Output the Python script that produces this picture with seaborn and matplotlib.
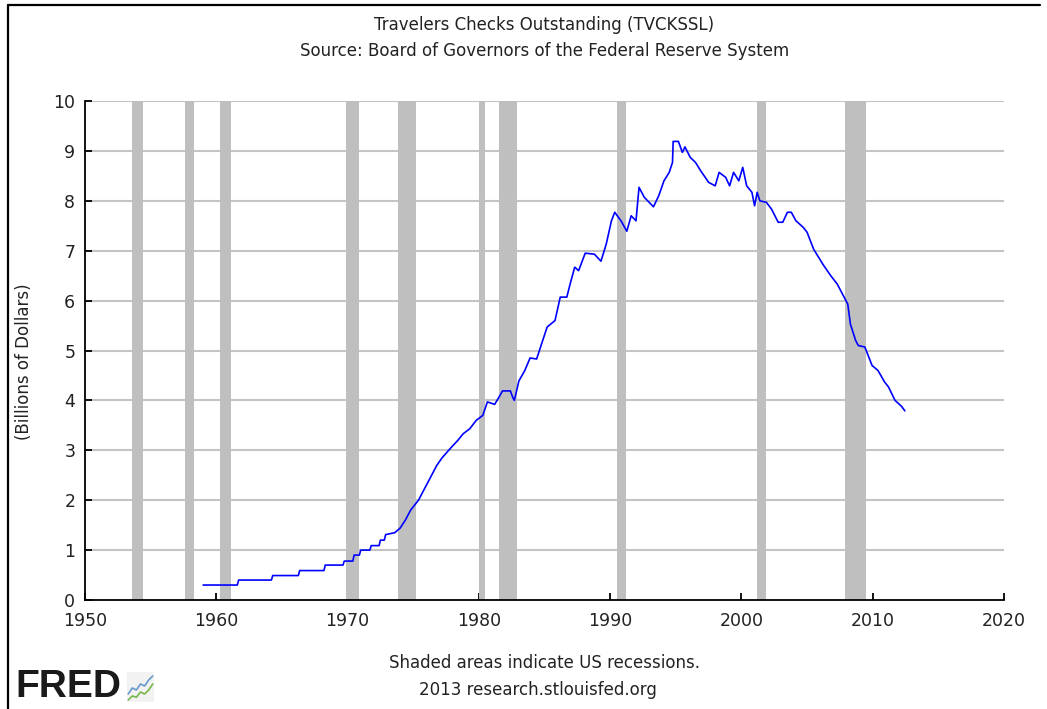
import matplotlib
matplotlib.use("Agg")
import matplotlib.pyplot as plt
from matplotlib.lines import Line2D
import seaborn as sns
import pandas as pd

# ---- data ----
years = [1959.0, 1961.6, 1961.7, 1964.2, 1964.3, 1966.25, 1966.35, 1968.2, 1968.3,
         1969.65, 1969.75, 1970.4, 1970.5, 1970.9, 1971.0, 1971.7, 1971.8, 1972.4,
         1972.5, 1972.8, 1972.9, 1973.6, 1974.0, 1974.4, 1974.8, 1975.4, 1976.0,
         1976.4, 1976.8, 1977.2, 1977.8, 1978.4, 1978.8, 1979.3, 1979.8, 1980.3,
         1980.65, 1981.2, 1981.5, 1981.8, 1982.4, 1982.6, 1982.7, 1983.05, 1983.5,
         1983.9, 1984.4, 1984.7, 1985.2, 1985.8, 1986.2, 1986.7, 1986.95, 1987.3,
         1987.6, 1988.1, 1988.8, 1989.3, 1989.7, 1990.1, 1990.35, 1990.85, 1991.27,
         1991.6, 1991.97, 1992.2, 1992.6, 1993.3, 1993.7, 1994.1, 1994.5, 1994.75,
         1994.8, 1995.2, 1995.5, 1995.7, 1996.1, 1996.5, 1996.9, 1997.5, 1998.0,
         1998.3, 1998.8, 1999.1, 1999.4, 1999.8, 2000.1, 2000.4, 2000.8, 2001.0,
         2001.2, 2001.4, 2001.9, 2002.3, 2002.8, 2003.15, 2003.5, 2003.8, 2004.15,
         2004.7, 2005.0, 2005.5, 2006.2, 2006.8, 2007.3, 2007.7, 2008.1, 2008.3,
         2008.7, 2008.9, 2009.4, 2009.95, 2010.4, 2010.9, 2011.2, 2011.7, 2012.2,
         2012.45]
values = [0.30, 0.30, 0.40, 0.40, 0.49, 0.49, 0.59, 0.59, 0.70,
          0.70, 0.78, 0.78, 0.90, 0.90, 1.00, 1.00, 1.09, 1.09,
          1.20, 1.20, 1.31, 1.35, 1.44, 1.60, 1.80, 2.00, 2.30,
          2.50, 2.70, 2.85, 3.03, 3.20, 3.33, 3.43, 3.60, 3.70,
          3.97, 3.92, 4.05, 4.19, 4.19, 4.05, 4.00, 4.39, 4.60,
          4.85, 4.83, 5.07, 5.47, 5.60, 6.07, 6.07, 6.33, 6.67,
          6.60, 6.95, 6.93, 6.79, 7.13, 7.60, 7.77, 7.59, 7.39,
          7.70, 7.60, 8.27, 8.07, 7.88, 8.10, 8.40, 8.57, 8.77,
          9.19, 9.19, 8.97, 9.08, 8.87, 8.77, 8.60, 8.37, 8.30,
          8.57, 8.47, 8.30, 8.57, 8.40, 8.67, 8.30, 8.17, 7.90,
          8.17, 8.00, 7.97, 7.83, 7.57, 7.57, 7.77, 7.77, 7.60,
          7.47, 7.37, 7.03, 6.73, 6.50, 6.33, 6.13, 5.93, 5.53,
          5.20, 5.10, 5.07, 4.70, 4.60, 4.37, 4.27, 4.00, 3.88,
          3.79]

recession_starts = [1953.55, 1957.6, 1960.25, 1969.9, 1973.85, 1980.0, 1981.5, 1990.5, 2001.2, 2007.9]
recession_ends = [1954.4, 1958.3, 1961.1, 1970.9, 1975.2, 1980.5, 1982.9, 1991.2, 2001.9, 2009.5]

x_ticks = [1950, 1960, 1970, 1980, 1990, 2000, 2010, 2020]
y_ticks = [0, 1, 2, 3, 4, 5, 6, 7, 8, 9, 10]

title1 = "Travelers Checks Outstanding (TVCKSSL)"
title2 = "Source: Board of Governors of the Federal Reserve System"
ylabel = "(Billions of Dollars)"
footer1 = "Shaded areas indicate US recessions."
footer2 = "2013 research.stlouisfed.org"

# decorative FRED icon lines
icon_x = [0, 1, 2, 3, 4, 5, 6]
icon_blue = [2.0, 3.5, 3.0, 4.5, 4.0, 5.5, 6.5]
icon_green = [0.5, 1.5, 1.2, 2.5, 2.0, 3.0, 4.5]

df = pd.DataFrame({"year": years, "value": values})

sns.set_style("white")
plt.rcParams["font.family"] = ["DejaVu Sans"]

fig = plt.figure(figsize=(10.47, 7.09), dpi=100)
W, H = 1047, 709
ax = fig.add_axes([85 / W, 1 - 600 / H, (1004 - 85) / W, (600 - 101) / H])

for s, e in zip(recession_starts, recession_ends):
    ax.axvspan(s, e, color="#bfbfbf", lw=0, zorder=1)

for yv in y_ticks[1:]:
    ax.axhline(yv, color="#c4c4c4", lw=1.5, zorder=0.5)

sns.lineplot(data=df, x="year", y="value", ax=ax, estimator=None, sort=False,
             color="#0000ff", lw=1.2, zorder=3)

ax.set_xlim(1950, 2020)
ax.set_ylim(0, 10)
ax.set_xticks(x_ticks)
ax.set_yticks(y_ticks)
ax.set_xlabel("")
ax.set_ylabel(ylabel, fontsize=12, color="#222222")
ax.yaxis.set_label_coords((33 - 85) / 919, (600 - 362) / 499)
for side in ["top", "right"]:
    ax.spines[side].set_visible(False)
for side in ["left", "bottom"]:
    ax.spines[side].set_color("black")
    ax.spines[side].set_linewidth(1.3)
ax.tick_params(axis="both", direction="in", length=5, width=1.3, color="black",
               labelsize=12.5, labelcolor="#222222")
ax.tick_params(axis="y", pad=7, left=True)
ax.tick_params(axis="x", pad=9, bottom=True)

cx = (85 + 1004) / 2 / W
fig.text(cx, 1 - 25 / H, title1, ha="center", va="center", fontsize=12, color="#222222")
fig.text(cx, 1 - 51 / H, title2, ha="center", va="center", fontsize=12, color="#222222")
fig.text(cx, 1 - 663 / H, footer1, ha="center", va="center", fontsize=12, color="#222222")
fig.text(538 / W, 1 - 690 / H, footer2, ha="center", va="center", fontsize=12, color="#222222")

fig.text(15 / W, 1 - 687 / H, "FRED", ha="left", va="center", fontsize=28,
         fontweight="bold", color="#1a1a1a", family=["Liberation Sans", "DejaVu Sans"])
iax = fig.add_axes([127 / W, 1 - 702 / H, 27 / W, 30 / H])
iax.plot(icon_x, icon_blue, color="#6699cc", lw=1.2)
iax.plot(icon_x, icon_green, color="#77b84a", lw=1.2)
iax.set_xlim(-0.3, 6.3)
iax.set_ylim(0, 7.5)
iax.set_xticks([])
iax.set_yticks([])
iax.set_facecolor("#f2f2f2")
for sp in iax.spines.values():
    sp.set_visible(False)

# image border (top and left)
fig.add_artist(Line2D([8 / W, 8 / W], [0, 1 - 5 / H], transform=fig.transFigure, color="black", lw=1.6))
fig.add_artist(Line2D([8 / W, 1040 / W], [1 - 5 / H, 1 - 5 / H], transform=fig.transFigure, color="black", lw=1.6))

fig.savefig("out.png", dpi=100)
